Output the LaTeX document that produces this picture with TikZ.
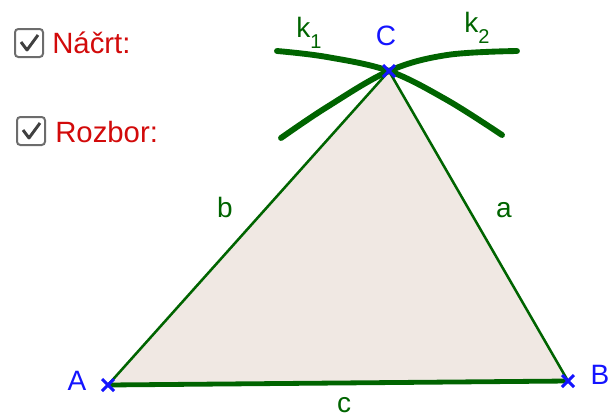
\documentclass[tikz,border=0pt]{standalone}
\usepackage{fontspec}
\setmainfont{Liberation Sans}
\usepackage{xcolor}
\usepackage{tikz}
\usetikzlibrary{positioning}
\definecolor{ggred}{RGB}{210,10,10}
\definecolor{gggreen}{RGB}{0,100,0}
\definecolor{ggblue}{RGB}{20,20,255}
\definecolor{ggfill}{RGB}{240,232,227}
\newcommand{\lowidx}[1]{\raisebox{-0.42em}{\fontsize{15}{15}\selectfont #1}}

\begin{document}
\begin{tikzpicture}[
  x=0.75pt, y=-0.75pt,
  font=\fontsize{21}{24}\selectfont,
  side/.style={gggreen, line width=1.9pt},
  base/.style={gggreen, line width=3.6pt},
  circ/.style={gggreen, line width=4.4pt, line cap=round},
  pt/.style={ggblue, line width=2.2pt},
  ptlabel/.style={text=ggblue, inner sep=0pt},
  seglabel/.style={text=gggreen, inner sep=0pt},
  chkbox/.style={draw=gray!85!black, line width=1.5pt, rounded corners=2.5pt, fill=white},
  chkmark/.style={draw=black!75, line width=2.2pt, line join=round},
  caption/.style={text=ggred, anchor=base west, inner sep=0pt, font=\fontsize{22}{24}\selectfont}
]
\useasboundingbox (0,0) rectangle (614,419);

% vertices
\coordinate (A) at (108,385);
\coordinate (B) at (568,381);
\coordinate (C) at (389,71);

\fill[ggfill] (A) -- (B) -- (C) -- cycle;
\draw[side] (A) -- (C);
\draw[side] (B) -- (C);
\draw[base] (A) -- (B);

% the two circle arcs
\draw[circ] plot[smooth, tension=0.6] coordinates {(277,51) (327,57) (389,71) (447,100) (502,135)};
\draw[circ] plot[smooth, tension=0.6] coordinates {(281,138) (327,107) (389,71) (447,55) (517,51)};

\foreach \p in {A,B,C}
  \draw[pt] ([shift={(-6,-6)}]\p) -- ([shift={(6,6)}]\p) ([shift={(-6,6)}]\p) -- ([shift={(6,-6)}]\p);

\node[ptlabel] (lA) at (77,381) {A};
\node[ptlabel] (lB) at (600,375) {B};
\node[ptlabel] (lC) at (386,36) {C};

\node[seglabel] (la) at (504,210) {a};
\node[seglabel] (lb) at (225,207) {b};
\node[seglabel] (lc) at (344,405) {c};
\node[seglabel, anchor=base west] (lk1) at (296,37) {k\lowidx{1}};
\node[seglabel, anchor=base west] (lk2) at (464,32) {k\lowidx{2}};

% check boxes
\draw[chkbox] (15,29) rectangle (43,57);
\draw[chkmark] (21,42) -- (27,50) -- (38,35);
\node[caption] (sketch) at (52,53) {Náčrt:};
\draw[chkbox] (17,117) rectangle (45,145);
\draw[chkmark] (23,130) -- (29,138) -- (40,123);
\node[caption] (analysis) at (55,142) {Rozbor:};
\end{tikzpicture}
\end{document}
